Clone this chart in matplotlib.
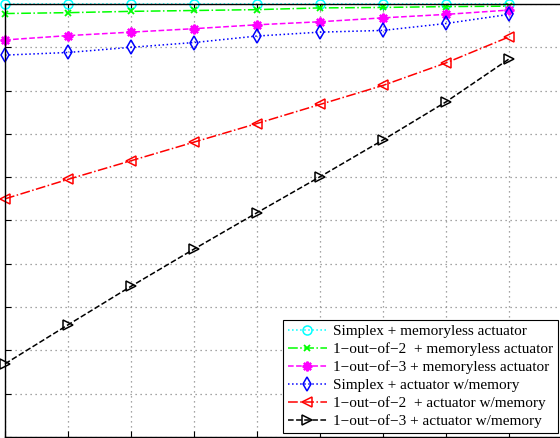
import numpy as np
import matplotlib.pyplot as plt

# x positions (unit steps) and series values
x = [0, 1, 2, 3, 4, 5, 6, 7, 8]

simplex_ml = [10.0, 10.0, 10.0, 10.0, 10.0, 10.0, 10.0, 10.0, 10.0]
oo2_ml = [9.78, 9.80, 9.83, 9.85, 9.87, 9.91, 9.92, 9.94, 9.95]
oo3_ml = [9.17, 9.27, 9.35, 9.43, 9.52, 9.59, 9.68, 9.76, 9.86]
simplex_mem = [8.82, 8.88, 9.00, 9.11, 9.26, 9.35, 9.39, 9.55, 9.76]
oo2_mem = [5.50, 5.95, 6.38, 6.81, 7.24, 7.68, 8.12, 8.64, 9.24]
oo3_mem = [1.69, 2.59, 3.48, 4.34, 5.18, 6.01, 6.86, 7.74, 8.73]

labels = [
    'Simplex + memoryless actuator',
    '1\u2212out\u2212of\u22122  + memoryless actuator',
    '1\u2212out\u2212of\u22123 + memoryless actuator',
    'Simplex + actuator w/memory',
    '1\u2212out\u2212of\u22122  + actuator w/memory',
    '1\u2212out\u2212of\u22123 + actuator w/memory',
]

plt.rcParams['font.family'] = ['Liberation Serif', 'DejaVu Serif']

fig = plt.figure(figsize=(5.6, 4.38), dpi=100)
ax = fig.add_axes([5 / 560, 1 / 438, 567 / 560, 433 / 438])

ms = 6.5
ax.plot(x, simplex_ml, ':', color='#00ffff', marker='o', mfc='none', ms=ms, lw=1.1, mew=1.1, label=labels[0], clip_on=False)
ax.plot(x, oo2_ml, '-.', color='#00ff00', marker='x', ms=5, lw=1.1, mew=1.3, label=labels[1], clip_on=False)
ax.plot(x, oo3_ml, '--', color='#ff00ff', marker=(8, 2, 0), ms=7, lw=1.1, mew=1.6, label=labels[2], clip_on=False)
ax.plot(x, simplex_mem, ':', color='#0000ff', marker='d', mfc='none', ms=7, lw=1.1, mew=1.1, label=labels[3], clip_on=False)
ax.plot(x, oo2_mem, '-.', color='#ff0000', marker='<', mfc='none', ms=7, lw=1.1, mew=1.1, label=labels[4], clip_on=False)
ax.plot(x, oo3_mem, '--', color='#000000', marker='>', mfc='none', ms=7, lw=1.1, mew=1.1, label=labels[5], clip_on=False)

ax.set_xlim(0, 9)
ax.set_ylim(0, 10)
ax.set_xticks(np.arange(0, 10, 1))
ax.set_yticks(np.arange(0, 11, 1))
ax.set_xticklabels([])
ax.set_yticklabels([])
ax.tick_params(direction='in', length=4, width=0.8, top=True, right=True)
ax.grid(True, linestyle=(0, (1, 3)), color='#888888', lw=0.9)
for s in ax.spines.values():
    s.set_linewidth(1.0)

leg = ax.legend(loc='lower left', bbox_to_anchor=(283 / 560, 5 / 438),
                bbox_transform=fig.transFigure, fontsize=11, frameon=True,
                fancybox=False, framealpha=1, edgecolor='black',
                handlelength=2.6, labelspacing=0.28, borderpad=0.3,
                handletextpad=0.4, borderaxespad=0)
leg.get_frame().set_linewidth(0.8)

fig.savefig('out.png', dpi=100)
